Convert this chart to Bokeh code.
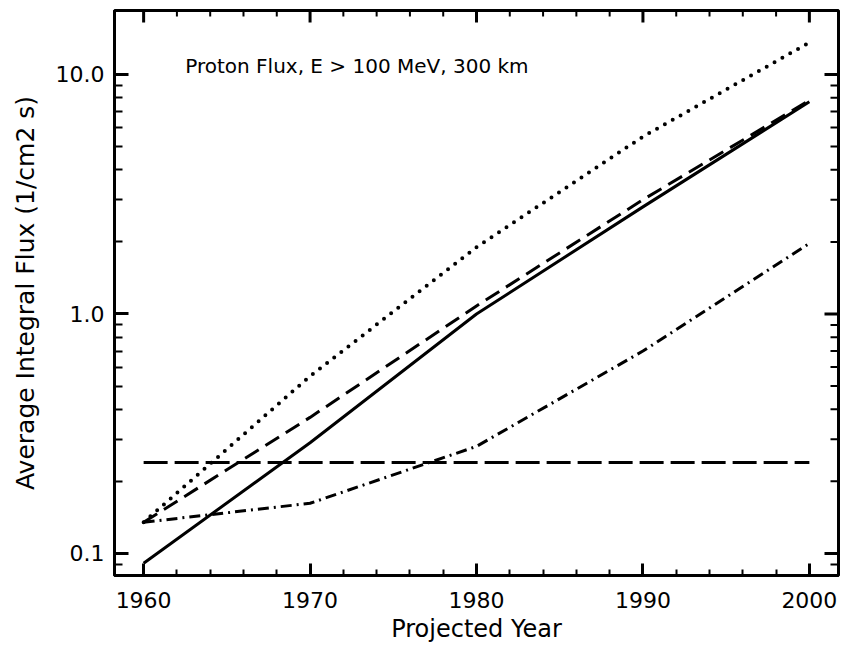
import math
from bokeh.plotting import figure
from bokeh.models import FixedTicker, Range1d, Label
from bokeh.embed import file_html
from bokeh.resources import INLINE

years = [1960, 1970, 1980, 1990, 2000]
solid = [0.091, 0.29, 1.0, 2.8, 7.7]
dashed = [0.135, 0.37, 1.08, 3.0, 7.8]
dotted = [0.135, 0.55, 1.9, 5.5, 13.6]
dashdot = [0.135, 0.162, 0.28, 0.70, 1.97]
flat_years = [1960, 2000]
flat = [0.24, 0.24]

x_ticks = [1960, 1970, 1980, 1990, 2000]
x_minor = [1962, 1964, 1966, 1968, 1972, 1974, 1976, 1978, 1982, 1984, 1986, 1988,
           1992, 1994, 1996, 1998]
y_ticks = [0.1, 1.0, 10.0]
y_labels = {0.1: "0.1", 1.0: "1.0", 10.0: "10.0"}
y_minor = [0.09, 0.2, 0.3, 0.4, 0.5, 0.6, 0.7, 0.8, 0.9,
           2, 3, 4, 5, 6, 7, 8, 9]

title_text = "Proton Flux, E > 100 MeV, 300 km"
FONT = "DejaVu Sans"

X0, X1 = 1958.25, 2001.75
Y0, Y1 = 0.0809, 18.5

p = figure(width=841, height=649, y_axis_type="log",
           x_range=Range1d(X0, X1), y_range=Range1d(Y0, Y1),
           output_backend="svg", toolbar_location=None,
           min_border_left=114, min_border_right=3, min_border_top=10,
           min_border_bottom=74)
p.grid.visible = False
p.outline_line_color = "black"
p.outline_line_width = 3
p.background_fill_color = "white"
p.border_fill_color = "white"

xt = FixedTicker(ticks=x_ticks, minor_ticks=x_minor)
yt = FixedTicker(ticks=y_ticks, minor_ticks=y_minor)

def style(ax):
    ax.axis_line_color = "black"
    ax.axis_line_width = 3
    ax.major_tick_line_width = 3
    ax.minor_tick_line_width = 2
    ax.major_tick_out = 0
    ax.minor_tick_out = 0
    ax.major_label_text_color = "black"
    ax.axis_label_text_color = "black"

xa = p.xaxis[0]
xa.ticker = xt
style(xa)
xa.major_tick_in = 12
xa.minor_tick_in = 6
xa.major_label_text_font = FONT
xa.major_label_text_font_size = "22px"
xa.major_label_standoff = 16
xa.axis_label = "Projected Year"
xa.axis_label_text_font = FONT
xa.axis_label_text_font_size = "24px"
xa.axis_label_text_font_style = "normal"
xa.axis_label_standoff = 4

ya = p.yaxis[0]
ya.ticker = yt
style(ya)
ya.major_tick_in = 14
ya.minor_tick_in = 8
ya.major_label_overrides = y_labels
ya.major_label_text_font = FONT
ya.major_label_text_font_size = "22px"
ya.major_label_standoff = 10
ya.axis_label = "Average Integral Flux (1/cm2 s)"
ya.axis_label_text_font = FONT
ya.axis_label_text_font_size = "25px"
ya.axis_label_text_font_style = "normal"
ya.axis_label_standoff = 13

# mirrored ticks on the top and right frame edges (clipped to the frame)
p.scatter(x_ticks, [Y1] * len(x_ticks), marker="dash", angle=math.pi / 2,
          size=24, line_color="black", line_width=3)
p.scatter(x_minor, [Y1] * len(x_minor), marker="dash", angle=math.pi / 2,
          size=12, line_color="black", line_width=2)
p.scatter([X1] * len(y_ticks), y_ticks, marker="dash",
          size=28, line_color="black", line_width=3)
p.scatter([X1] * len(y_minor), y_minor, marker="dash",
          size=16, line_color="black", line_width=2)

p.line(years, dotted, line_color="black", line_width=4, line_dash="0 9", line_cap="round")
p.line(years, dashed, line_color="black", line_width=3, line_dash="16 8")
p.line(years, solid, line_color="black", line_width=3)
p.line(years, dashdot, line_color="black", line_width=3, line_dash="11 5 2 5")
p.line(flat_years, flat, line_color="black", line_width=3, line_dash="24 7")

p.add_layout(Label(x=1962.5, y=10.8, text=title_text, text_font=FONT,
                   text_font_size="20px", text_baseline="middle", text_color="black"))

open("out.html", "w").write(file_html(p, INLINE))
